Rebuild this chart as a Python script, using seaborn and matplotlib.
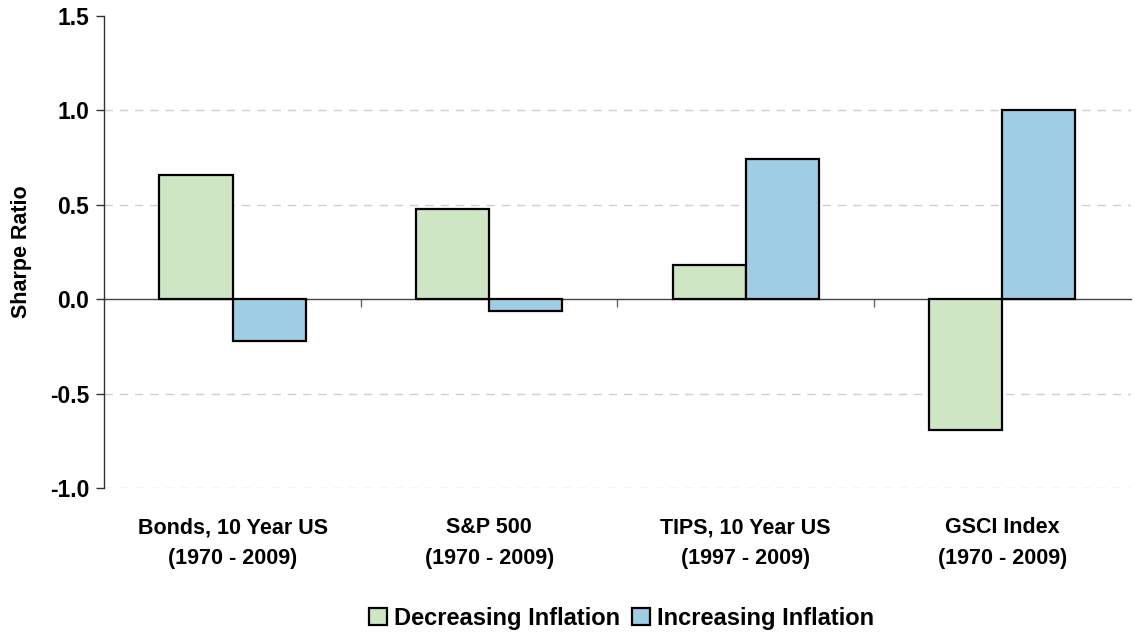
import matplotlib
matplotlib.use("Agg")

import numpy as np
import pandas as pd
import matplotlib.pyplot as plt
import seaborn as sns

# ── Data ──────────────────────────────────────────────────────────────────────
categories = ["Bonds, 10 Year US\n(1970 - 2009)",
              "S&P 500\n(1970 - 2009)",
              "TIPS, 10 Year US\n(1997 - 2009)",
              "GSCI Index\n(1970 - 2009)"]
series = ["Decreasing Inflation", "Increasing Inflation"]
decreasing = [0.66, 0.48, 0.18, -0.69]
increasing = [-0.22, -0.06, 0.74, 1.00]
y_ticks = [-1.0, -0.5, 0.0, 0.5, 1.0, 1.5]

GREEN = "#CFE6C4"
BLUE = "#9ECDE4"

df = pd.DataFrame({
    "Asset": categories * 2,
    "Regime": [series[0]] * 4 + [series[1]] * 4,
    "Sharpe": decreasing + increasing,
})

sns.set_style("white")
plt.rcParams.update({
    "font.family": ["Liberation Sans", "DejaVu Sans"],
    "font.weight": "bold",
    "text.color": "black",
    "axes.labelcolor": "black",
    "xtick.labelcolor": "black",
    "ytick.labelcolor": "black",
})

fig = plt.figure(figsize=(11.34, 6.34), dpi=100)
ax = fig.add_axes([0.092, 0.230, 0.905, 0.745])

# dashed grid (skip top and zero)
for v in y_ticks:
    if v not in (0.0, 1.5):
        ax.axhline(v, color="#cfcfcf", lw=1, ls=(0, (6, 5)), zorder=0)

sns.barplot(data=df, x="Asset", y="Sharpe", hue="Regime",
            palette=[GREEN, BLUE], width=0.57, edgecolor="black",
            linewidth=1.6, saturation=1, ax=ax, zorder=3)

ax.set_xlim(-0.5, 3.5)
ax.set_ylim(-1.0, 1.5)
ax.set_yticks(y_ticks)
ax.set_yticklabels([f"{v:.1f}" for v in y_ticks], fontsize=16.5, fontweight="bold")
ax.tick_params(axis="y", direction="out", length=6, width=1, color="#333333", pad=5, left=True)
ax.tick_params(axis="x", length=0, pad=21)
ax.set_xticks(range(len(categories)))
ax.set_xticklabels(categories, fontsize=15.5, fontweight="bold", linespacing=1.6)
ax.set_xlabel("")
ax.set_ylabel("Sharpe Ratio", fontsize=15.5, fontweight="bold", labelpad=13)

for s in ["top", "right", "bottom"]:
    ax.spines[s].set_visible(False)
ax.spines["left"].set_color("#333333")
ax.spines["left"].set_linewidth(1)

# zero axis with category separator ticks
zero = ax.secondary_xaxis(1.0 / 2.5)
zero.set_xticks([0.5, 1.5, 2.5])
zero.set_xticklabels([])
zero.tick_params(direction="out", length=6, width=1, color="#666666")
zero.spines["bottom"].set_color("#444444")
zero.spines["bottom"].set_linewidth(1)

ax.legend_.remove()
handles, labels = ax.get_legend_handles_labels()
fig.legend(handles, labels, loc="lower center", bbox_to_anchor=(0.548, -0.027),
           ncol=2, frameon=False, handlelength=0.75, handleheight=0.75,
           handletextpad=0.3, columnspacing=0.5,
           prop={"weight": "bold", "size": 17})

fig.savefig("out.png", dpi=100)
